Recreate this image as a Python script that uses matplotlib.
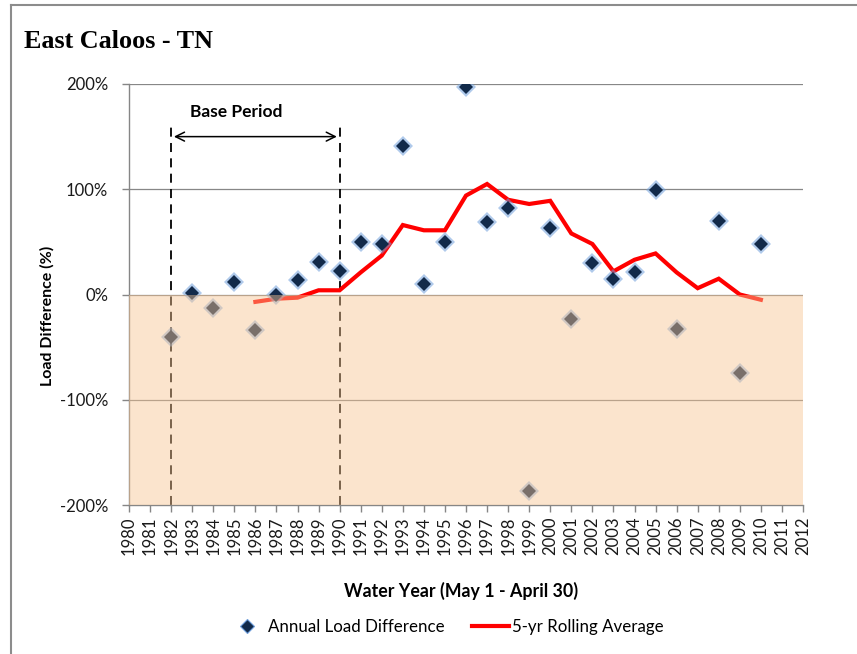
import matplotlib
matplotlib.use("Agg")
import matplotlib.pyplot as plt
from matplotlib.lines import Line2D
from matplotlib.patches import Rectangle
import numpy as np

# ---- data ----
point_years = [1982, 1983, 1984, 1985, 1986, 1987, 1988, 1989, 1990, 1991,
               1992, 1993, 1994, 1995, 1996, 1997, 1998, 1999, 2000, 2001,
               2002, 2003, 2004, 2005, 2006, 2008, 2009, 2010]
annual_diff = [-40, 1, -13, 12, -34, 0, 14, 31, 22, 50,
               48, 141, 10, 50, 197, 69, 82, -187, 63, -23,
               30, 15, 21, 99, -33, 70, -75, 48]

roll_years = [1986, 1987, 1988, 1989, 1990, 1991, 1992, 1993, 1994, 1995,
              1996, 1997, 1998, 1999, 2000, 2001, 2002, 2003, 2004, 2005,
              2006, 2007, 2008, 2009, 2010]
roll_avg = [-7, -4, -3, 4, 4, 21, 37, 66, 61, 61,
            94, 105, 90, 86, 89, 58, 48, 22, 33, 39,
            21, 6, 15, 0, -5]

x_ticks = list(range(1980, 2013))
y_ticks = [-200, -100, 0, 100, 200]
y_ticklabels = ["-200%", "-100%", "0%", "100%", "200%"]
base_start, base_end = 1982, 1990

W, H = 857, 654
fig = plt.figure(figsize=(W / 100, H / 100), dpi=100)
fig.patch.set_facecolor("white")

ax = fig.add_axes([129 / W, 1 - 505 / H, (803 - 129) / W, (505 - 84) / H])
ax.set_xlim(1980, 2012)
ax.set_ylim(-200, 200)

# gridlines
for yv in [-100, 0, 100, 200]:
    ax.axhline(yv, color="#878787", lw=0.9, zorder=1)

# dashed base period lines
for xv in [base_start, base_end]:
    ax.plot([xv, xv], [-200, 162], color="black", lw=1.3,
            linestyle=(0, (5, 3.5)), zorder=2)

# rolling average
ax.plot(roll_years, roll_avg, color="#ff0000", lw=3.0, zorder=3,
        solid_joinstyle="miter")

# annual points: glow + core
ax.plot(point_years, annual_diff, linestyle="none", marker="D", ms=10,
        color="#6f9fdc", alpha=0.55, markeredgewidth=0, zorder=4)
ax.plot(point_years, annual_diff, linestyle="none", marker="D", ms=7.5,
        color="#122a4a", markeredgewidth=0, zorder=5)

# shaded negative region (semi-transparent overlay)
ax.add_patch(Rectangle((1980, -200), 32, 200, facecolor="#f8c592",
                       alpha=0.45, edgecolor="none", zorder=6))

# base period arrow and label
ax.annotate("", xy=(base_start, 150), xytext=(base_end, 150),
            arrowprops=dict(arrowstyle="<->", color="black", lw=1.1,
                            mutation_scale=16), zorder=7)
ax.text(1985.1, 173, "Base Period", ha="center",
        va="center", fontsize=12.5, fontweight="bold", family="Lato", zorder=7)

# axes styling
for s in ["top", "right"]:
    ax.spines[s].set_visible(False)
for s in ["left", "bottom"]:
    ax.spines[s].set_color("#868686")
    ax.spines[s].set_linewidth(1.0)
ax.set_xticks(x_ticks)
ax.set_xticklabels([str(v) for v in x_ticks], rotation=90, fontsize=12,
                   family="Lato")
ax.set_yticks(y_ticks)
ax.set_yticklabels(y_ticklabels, fontsize=12, family="Lato")
ax.tick_params(axis="both", direction="out", length=5, color="#868686",
               labelcolor="#1a1a1a", width=1.0)
ax.tick_params(axis="y", pad=10)
ax.tick_params(axis="x", pad=3)

fig.text(47 / W, 1 - 316 / H, "Load Difference (%)", ha="center",
         va="center", rotation=90, fontsize=11.5, fontweight="bold",
         family="Lato")
fig.text(461 / W, 1 - 591 / H, "Water Year (May 1 - April 30)", ha="center",
         va="center", fontsize=12.8, fontweight="bold", family="Lato")

# title
fig.text(24 / W, 1 - 42 / H, "East Caloos - TN", ha="left", va="center",
         fontsize=18.8, fontweight="bold", family="Liberation Serif")

# legend
h1 = Line2D([], [], linestyle="none", marker="D", ms=7.5, color="#122a4a",
            markeredgecolor="#6f9fdc", markeredgewidth=0.8)
h2 = Line2D([], [], color="#ff0000", lw=3)
leg = fig.legend([h1, h2], ["Annual Load Difference", "5-yr Rolling Average"],
                 loc="center", bbox_to_anchor=(446 / W, 1 - 627 / H), ncol=2,
                 frameon=False, prop={"family": "Lato", "size": 12.2},
                 handlelength=2.2, handletextpad=0.15, columnspacing=1.6)

# figure frame (top and left visible)
fig.add_artist(Line2D([11 / W, 11 / W], [0, 1 - 4.5 / H], color="#8c8c8c",
                      lw=1.5, transform=fig.transFigure))
fig.add_artist(Line2D([11 / W, 1], [1 - 4.5 / H, 1 - 4.5 / H],
                      color="#8c8c8c", lw=1.5, transform=fig.transFigure))

fig.savefig("out.png", dpi=100, facecolor="white")
